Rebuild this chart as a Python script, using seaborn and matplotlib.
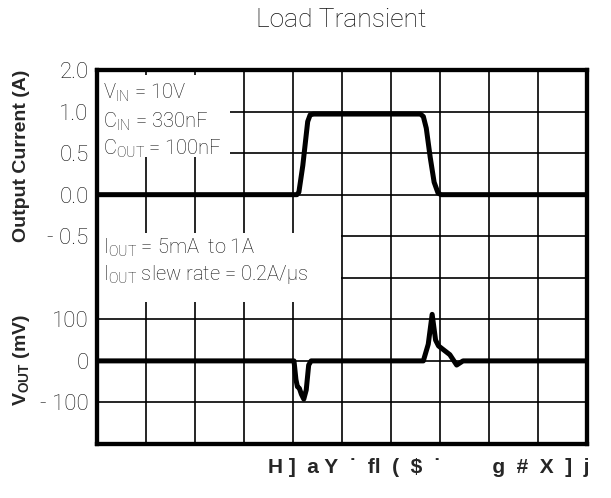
import numpy as np
import pandas as pd
import matplotlib
matplotlib.use("Agg")
import matplotlib.pyplot as plt
from matplotlib.patches import Rectangle
import seaborn as sns

# ---- data (time in divisions) ----
t_current = [0, 4.08, 4.12, 4.20, 4.30, 4.35, 4.42, 6.60, 6.66, 6.72, 6.80, 6.88, 6.96, 7.02, 10]
i_current = [0, 0, 0.03, 0.35, 0.88, 0.96, 0.97, 0.97, 0.94, 0.80, 0.45, 0.15, 0.02, 0, 0]

t_vout = [0, 4.02, 4.06, 4.09, 4.13, 4.17, 4.22, 4.27, 4.32, 4.37, 6.66, 6.76, 6.84, 6.91, 6.97, 7.20, 7.34, 7.47, 10]
v_vout = [0, 0, -45, -62, -66, -80, -92, -70, -10, 0, 0, 40, 112, 50, 36, 15, -10, 0, 0]

cur_ticks = [1.5, 1.0, 0.5, 0.0, -0.5]
cur_labels = ["2.0", "1.0", "0.5", "0.0", "- 0.5"]
v_ticks = [100, 0, -100]
v_labels = ["100", "0", "- 100"]

title = "Load Transient"
xlabel = "H ]  a Y  ˙  fl  (  $  ˙         g  #  X  ]  j"
notes_top = [r"V$_\mathregular{IN}$ = 10V", r"C$_\mathregular{IN}$ = 330nF", r"C$_\mathregular{OUT}$ = 100nF"]
notes_mid = [r"I$_\mathregular{OUT}$ = 5mA  to 1A", r"I$_\mathregular{OUT}$ slew rate = 0.2A/µs"]

sns.set_style("white")
light_font = "Roboto"
plt.rcParams["font.family"] = [light_font, "DejaVu Sans"]
plt.rcParams["mathtext.fontset"] = "custom"
plt.rcParams["mathtext.rm"] = light_font + ":light"
plt.rcParams["mathtext.bf"] = "Liberation Sans:bold"

TXT = "#111111"

fig = plt.figure(figsize=(6.11, 4.98), dpi=100)
ax = fig.add_axes([97/611, 54/498, 490/611, 374/498])

df_i = pd.DataFrame({"t": t_current, "I": i_current})
df_v = pd.DataFrame({"t": t_vout, "V": v_vout})

ax.set_xlim(0, 10)
ax.set_ylim(-3.0, 1.5)
ax.set_xticks(np.arange(0, 11, 1))
ax.set_yticks(np.arange(-3.0, 1.51, 0.5))
ax.grid(True, color="black", lw=1.2)
ax.set_axisbelow(True)
ax.set_xticklabels([])
lbl = []
for v in np.arange(-3.0, 1.51, 0.5):
    match = [l for tk, l in zip(cur_ticks, cur_labels) if abs(tk - v) < 1e-9]
    lbl.append(match[0] if match else "")
ax.set_yticklabels(lbl)
ax.tick_params(length=0, pad=6, labelsize=16, labelcolor=TXT)
for lab in ax.get_yticklabels():
    lab.set_fontweight("light")

# white boxes behind annotations
ax.add_patch(Rectangle((0, 0.767), 0.271, 0.22, transform=ax.transAxes,
                       facecolor="white", edgecolor="none", zorder=1.5))
ax.add_patch(Rectangle((0, 0.380), 0.498, 0.184, transform=ax.transAxes,
                       facecolor="white", edgecolor="none", zorder=1.5))

sns.lineplot(data=df_i, x="t", y="I", ax=ax, color="black", lw=3.6, zorder=3)
ax.set_xlabel("")
ax.set_ylabel("")

ax2 = ax.twinx()
ax2.set_ylim(-200, 700)
sns.lineplot(data=df_v, x="t", y="V", ax=ax2, color="black", lw=3.6, zorder=3)
ax2.set_xlim(0, 10)
ax2.yaxis.tick_left()
ax2.set_yticks(v_ticks)
ax2.set_yticklabels(v_labels)
ax2.tick_params(length=0, pad=6, labelsize=16, labelcolor=TXT)
for lab in ax2.get_yticklabels():
    lab.set_fontweight("light")
ax2.set_ylabel("")
ax2.set_xlabel("")
ax2.grid(False)

for a in (ax, ax2):
    for s in a.spines.values():
        s.set_linewidth(3)
        s.set_color("black")

for txt, y in zip(notes_top, [0.922, 0.845, 0.773]):
    ax.text(0.012, y, txt, transform=ax.transAxes, fontsize=14.5, fontweight="light",
            color=TXT, va="baseline", ha="left", zorder=4)
for txt, y in zip(notes_mid, [0.508, 0.4385]):
    ax.text(0.012, y, txt, transform=ax.transAxes, fontsize=14.5, fontweight="light",
            color=TXT, va="baseline", ha="left", zorder=4)

fig.text(22/611, 1 - 156/498, "Output Current (A)", rotation=90, ha="center", va="center",
         fontsize=14, fontweight="bold", family="Liberation Sans")
fig.text(22/611, 1 - 360/498, r"$\mathbf{V_{OUT}}$ (mV)", rotation=90, ha="center", va="center",
         fontsize=14, fontweight="bold", family="Liberation Sans")
fig.text(341/611, 1 - 20/498, title, ha="center", va="center", fontsize=19,
         fontweight="light", color=TXT)
fig.text(429/611, 1 - 467/498, xlabel, ha="center", va="center", fontsize=15,
         fontweight="bold", family=["Liberation Sans", "DejaVu Sans"])

fig.savefig("out.png", dpi=100)
